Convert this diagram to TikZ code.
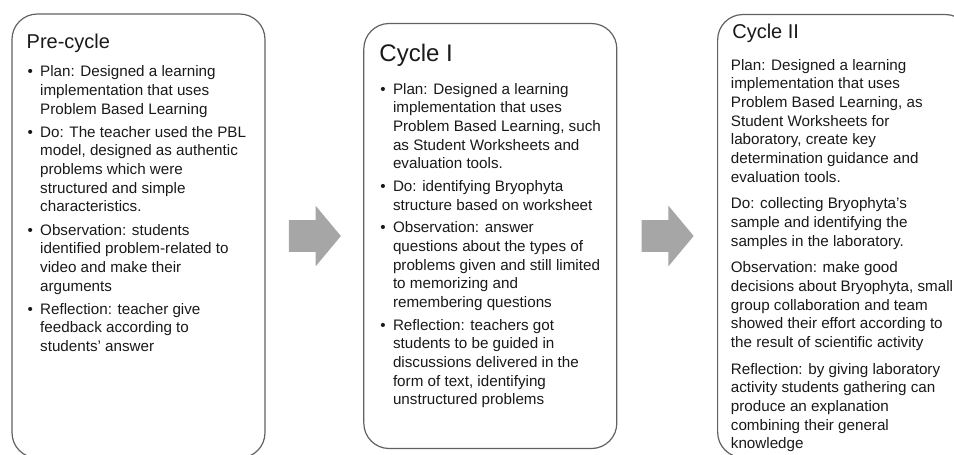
\documentclass[tikz,border=0pt]{standalone}
\usepackage{fontspec}
\setmainfont{Liberation Sans}
\usetikzlibrary{positioning,shapes.arrows}
\newcommand\bitem{\makebox[9.4pt][l]{\textbullet}}
\newcommand\bcont{\hspace*{9.4pt}}
\begin{document}
\begin{tikzpicture}[
        cyclebox/.style={draw=black!62, line width=0.9pt, rounded corners=19pt,
            minimum width=189.75pt, inner sep=0pt},
        blockarrow/.style={single arrow, fill=black!35, draw=none,
            inner xsep=10.875pt, inner ysep=11.625pt, minimum width=45pt, minimum height=39pt,
            single arrow head extend=10.875pt, single arrow tip angle=100.4},
        cycletitle/.style={inner sep=0pt, anchor=base west, text=black!90},
        cycletext/.style={inner sep=0pt, align=left, text=black!90,
            font=\fontsize{11.4}{14}\selectfont}
    ]
        \useasboundingbox (0,0) rectangle (715.5pt,-340.5pt);
        \node[cyclebox, minimum height=333pt] (pre) at (103.875pt,-177pt) {};
        \node[blockarrow, right=17.25pt of pre] (arrA) {};
        \node[cyclebox, minimum height=318.75pt, right=16.5pt of arrA] (cycA) {};
        \node[blockarrow, right=18pt of cycA] (arrB) {};
        \node[cyclebox, minimum height=332.25pt, right=17.25pt of arrB] (cycB) {};

        \node[cycletitle, font=\fontsize{15}{18}\selectfont,
            below right=26.25pt and 11.25pt of pre.north west, anchor=base west] (preTitle) {Pre-cycle};
        \node[cycletext, below right=39pt and 12pt of pre.north west] (preText) {%
            \bitem Plan: Designed a learning\\
            \bcont implementation that uses\\
            \bcont Problem Based Learning\\[3.4pt]
            \bitem Do: The teacher used the PBL\\
            \bcont model, designed as authentic\\
            \bcont problems which were\\
            \bcont structured and simple\\
            \bcont characteristics.\\[3.4pt]
            \bitem Observation: students\\
            \bcont identified problem-related to\\
            \bcont video and make their\\
            \bcont arguments\\[3.4pt]
            \bitem Reflection: teacher give\\
            \bcont feedback according to\\
            \bcont students' answer};

        \node[cycletitle, font=\fontsize{18}{21}\selectfont,
            below right=29.25pt and 12pt of cycA.north west, anchor=base west] (cycATitle) {Cycle I};
        \node[cycletext, below right=45pt and 12.75pt of cycA.north west] (cycAText) {%
            \bitem Plan: Designed a learning\\
            \bcont implementation that uses\\
            \bcont Problem Based Learning, such\\
            \bcont as Student Worksheets and\\
            \bcont evaluation tools.\\[3pt]
            \bitem Do: identifying Bryophyta\\
            \bcont structure based on worksheet\\[3pt]
            \bitem Observation: answer\\
            \bcont questions about the types of\\
            \bcont problems given and still limited\\
            \bcont to memorizing and\\
            \bcont remembering questions\\[3pt]
            \bitem Reflection: teachers got\\
            \bcont students to be guided in\\
            \bcont discussions delivered in the\\
            \bcont form of text, identifying\\
            \bcont unstructured problems};

        \node[cycletitle, font=\fontsize{15}{18}\selectfont,
            below right=18.75pt and 11.25pt of cycB.north west, anchor=base west] (cycBTitle) {Cycle II};
        \node[cycletext, below right=33.75pt and 10.2pt of cycB.north west] (cycBText) {%
            Plan: Designed a learning\\
            implementation that uses\\
            Problem Based Learning, as\\
            Student Worksheets for\\
            laboratory, create key\\
            determination guidance and\\
            evaluation tools.\\[6pt]
            Do: collecting Bryophyta's\\
            sample and identifying the\\
            samples in the laboratory.\\[6pt]
            Observation: make good\\
            decisions about Bryophyta, small\\
            group collaboration and team\\
            showed their effort according to\\
            the result of scientific activity\\[6pt]
            Reflection: by giving laboratory\\
            activity students gathering can\\
            produce an explanation\\
            combining their general\\
            knowledge};
    \end{tikzpicture}
\end{document}
